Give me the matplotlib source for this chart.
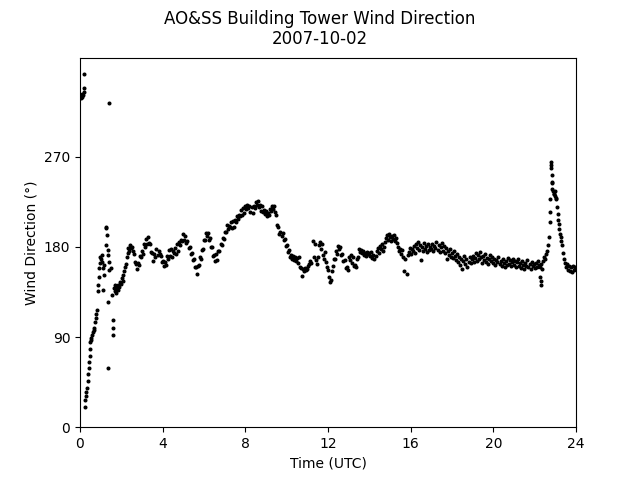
import numpy as np
import matplotlib
matplotlib.use('Agg')
import matplotlib.pyplot as plt
from matplotlib.ticker import MultipleLocator

# Scattered early-morning observations (hours UTC, degrees)
early_hours = [0.03, 0.06, 0.09, 0.12, 0.15, 0.18, 0.19, 0.21,
               0.22, 0.25, 0.28, 0.31, 0.35, 0.38, 0.40, 0.42, 0.44, 0.46, 0.48, 0.50,
               0.52, 0.55, 0.58, 0.62, 0.66, 0.70, 0.73, 0.76, 0.79, 0.81,
               0.86, 0.88, 0.92, 0.94, 0.97, 0.99, 1.02, 1.05, 1.08, 1.12, 1.12, 1.15, 1.18,
               1.26, 1.28, 1.30, 1.26, 1.34, 1.37, 1.39, 1.41, 1.37, 1.37, 1.40,
               1.49, 1.54, 1.58, 1.60, 1.62, 1.65, 1.68, 1.70, 1.74, 1.78, 1.82, 1.86,
               1.90, 1.94, 1.98, 2.02, 2.06, 2.10, 2.14, 2.18, 2.22, 2.26, 2.30, 2.34,
               2.38, 2.42, 2.46]
early_dir = [329, 331, 330, 333, 332, 335, 339, 353,
             20, 27, 31, 35, 39, 46, 53, 59, 65, 71, 78, 85,
             87, 89, 92, 95, 97, 99, 105, 109, 113, 117,
             136, 142, 150, 159, 164, 170, 168, 172, 165, 159, 137, 162, 152,
             199, 200, 192, 182, 177, 172, 165, 157, 125, 59, 324,
             159, 132, 92, 99, 107, 139, 136, 142, 134, 139, 137, 142,
             140, 145, 143, 149, 146, 152, 156, 160, 163, 170, 174, 179,
             176, 182, 179]

# Regular 3-minute record from 02:30 UTC onward (degrees)
grid_start = 2.5
grid_step = 0.05
grid_dir = [
    180, 176, 173, 165, 163, 158, 164, 162, 171, 170,
    176, 173, 183, 180, 188, 183, 190, 184, 183, 175, 174, 166, 173, 170, 178, 172, 176, 173, 171, 165,
    166, 161, 165, 162, 171, 168, 177, 171, 178, 170, 176, 174, 179, 173, 183, 176, 185, 182, 187, 186,
    193, 187, 191, 184, 186, 179, 180, 173, 174, 167, 168, 160, 160, 153, 161, 162, 170, 168, 177, 178,
    187, 187, 194, 191, 194, 187, 189, 180, 180, 171, 172, 166, 173, 167, 176, 176, 183, 182, 189, 188,
    195, 195, 202, 198, 201, 200, 205, 199, 206, 200, 207, 205, 211, 208, 212, 211, 217, 212, 219, 214,
    221, 218, 222, 219, 221, 215, 220, 214, 221, 219, 225, 222, 226, 220, 222, 216, 221, 215, 217, 213,
    216, 211, 214, 212, 218, 216, 221, 218, 221, 215, 212, 202, 200, 193, 195, 191, 194, 187, 188, 181,
    182, 175, 177, 170, 172, 168, 171, 167, 170, 166, 169, 164, 170, 160, 159, 151, 158, 156, 159, 157,
    158, 161, 163, 166, 164, 186, 170, 183, 167, 163, 170, 182, 185, 178, 183, 172, 168, 175, 165, 160,
    157, 150, 145, 147, 156, 161, 168, 168, 176, 173, 181, 178, 180, 172, 173, 166, 167, 159, 160, 157,
    170, 167, 172, 164, 170, 161, 162, 160, 168, 170, 178, 175, 177, 174, 176, 172, 174, 171, 175, 173,
    174, 171, 175, 169, 172, 168, 171, 176, 179, 174, 181, 178, 183, 176, 180, 185, 189, 192, 187, 193,
    190, 186, 191, 188, 192, 186, 189, 184, 180, 176, 178, 173, 177, 170, 156, 168, 153, 172, 175, 179,
    173, 178, 176, 181, 174, 183, 179, 185, 177, 182, 167, 180, 176, 184, 178, 181, 175, 183, 177, 180,
    178, 183, 176, 181, 179, 185, 177, 182, 175, 180, 184, 176, 181, 174, 179, 168, 176, 172, 178, 170,
    174, 169, 176, 171, 167, 173, 165, 170, 162, 168, 158, 166, 171, 163, 168, 160, 165, 170, 164, 168,
    171, 165, 169, 174, 166, 172, 168, 175, 170, 164, 171, 167, 173, 165, 169, 163, 168, 172, 166, 170,
    164, 168, 162, 167, 165, 170, 163, 166, 161, 168, 164, 160, 166, 162, 169, 163, 167, 161, 165, 168,
    162, 166, 160, 165, 168, 161, 164, 159, 166, 162, 158, 164, 161, 167, 160, 163, 158, 165, 161, 163,
    159, 164, 160, 166, 162, 160, 163, 158, 166, 170, 168, 173, 176, 182, 190, 215, 262, 245, 236, 233,
    231, 228, 220, 207, 198, 190, 182, 174, 168, 164, 160, 163, 157, 161, 156, 160, 155, 161, 157, 160,
]

# Extra observations around the late spike and dip (hours UTC, degrees)
extra_hours = [22.28, 22.30, 22.32, 22.72, 22.74, 22.78, 22.80, 22.82, 22.83, 22.86,
               22.92, 22.97, 23.02, 23.12, 23.17, 23.22, 23.27]
extra_dir = [150, 146, 142, 205, 228, 265, 259, 252, 244, 238,
             233, 236, 229, 213, 203, 193, 186]

grid_hours = grid_start + grid_step * np.arange(len(grid_dir))
hours = np.concatenate([early_hours, grid_hours, extra_hours])
wdir = np.concatenate([early_dir, grid_dir, extra_dir])

fig, ax = plt.subplots(figsize=(6.4, 4.8), dpi=100)
ax.plot(hours, wdir, 'k.', markersize=3.8)
ax.set_xlim(0, 24)
ax.set_ylim(0, 369)
ax.xaxis.set_major_locator(MultipleLocator(4))
ax.set_yticks([0, 90, 180, 270])
ax.set_xlabel('Time (UTC)')
ax.set_ylabel('Wind Direction (°)')
fig.suptitle('AO&SS Building Tower Wind Direction\n2007-10-02')
fig.savefig('out.png', dpi=100)
